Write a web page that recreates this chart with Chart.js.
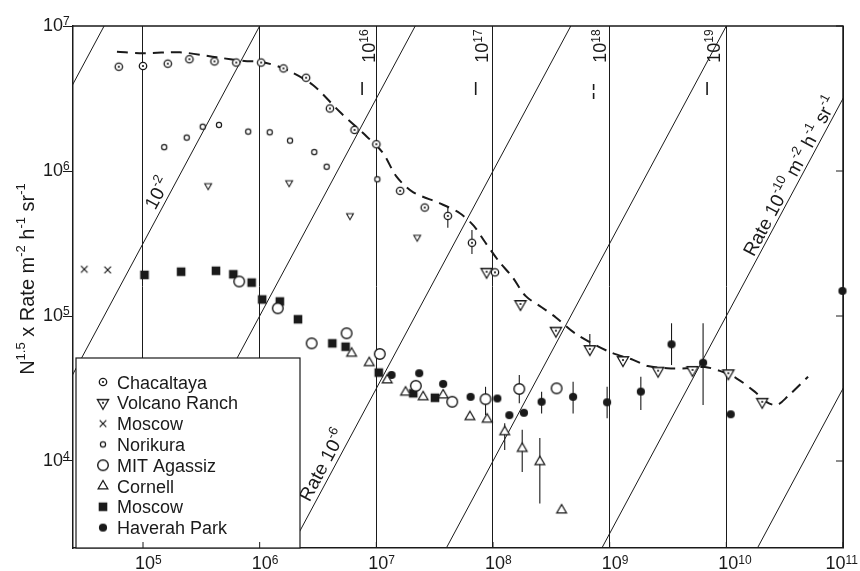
<!DOCTYPE html>
<html>
<head>
<meta charset="utf-8">
<script src="https://cdn.jsdelivr.net/npm/chart.js@4.4.1/dist/chart.umd.min.js"></script>
<style>
  html, body { margin: 0; padding: 0; background: #fff; }
  #wrap { width: 860px; height: 571px; position: relative; }
</style>
</head>
<body>
<div id="wrap"><canvas id="chart"></canvas></div>
<script>
// shower size N (x) against N^1.5 x integral rate (y)
const chacaltayaN    = [6.2e4, 1.0e5, 1.63e5, 2.5e5, 4.1e5, 6.3e5, 1.03e6, 1.6e6, 2.5e6, 4.0e6, 6.5e6, 1.0e7, 1.6e7, 2.6e7, 4.1e7, 6.6e7, 1.04e8];
const chacaltayaRate = [5.24e6, 5.3e6, 5.5e6, 5.9e6, 5.7e6, 5.6e6, 5.6e6, 5.1e6, 4.4e6, 2.7e6, 1.92e6, 1.53e6, 7.3e5, 5.6e5, 4.9e5, 3.2e5, 2.0e5];
const chacaltayaLo   = [null, null, null, null, null, null, null, null, null, null, null, null, null, null, 4.06e5, 2.68e5, null];
const chacaltayaHi   = [null, null, null, null, null, null, null, null, null, null, null, null, null, null, 5.74e5, 3.92e5, null];

const volcanoN    = [3.62e5, 1.79e6, 5.94e6, 2.24e7, 8.81e7, 1.72e8, 3.46e8, 6.76e8, 1.30e9, 2.60e9, 5.13e9, 1.04e10, 2.03e10];
const volcanoRate = [7.92e5, 8.3e5, 4.92e5, 3.49e5, 2.02e5, 1.21e5, 7.92e4, 5.92e4, 4.97e4, 4.2e4, 4.25e4, 4.03e4, 2.56e4];
const volcanoLo   = [null, null, null, null, null, null, null, 5.92e4, null, null, null, null, null];
const volcanoHi   = [null, null, null, null, null, null, null, 7.5e4, null, null, null, null, null];

const moscowXN    = [3.14e4, 4.98e4];
const moscowXRate = [2.1e5, 2.08e5];

const norikuraN    = [1.52e5, 2.37e5, 3.25e5, 4.48e5, 7.98e5, 1.22e6, 1.82e6, 2.94e6, 3.75e6, 1.02e7];
const norikuraRate = [1.46e6, 1.70e6, 2.02e6, 2.08e6, 1.87e6, 1.85e6, 1.62e6, 1.35e6, 1.07e6, 8.77e5];

const mitN    = [6.68e5, 1.43e6, 2.79e6, 5.56e6, 1.07e7, 2.18e7, 4.47e7, 8.63e7, 1.68e8, 3.51e8];
const mitRate = [1.73e5, 1.13e5, 6.48e4, 7.6e4, 5.47e4, 3.3e4, 2.56e4, 2.67e4, 3.14e4, 3.17e4];
const mitLo   = [null, null, null, null, null, null, null, 2.07e4, 2.5e4, null];
const mitHi   = [null, null, null, null, null, null, null, 3.25e4, 3.92e4, null];

const cornellN    = [6.14e6, 8.69e6, 1.24e7, 1.78e7, 2.52e7, 3.74e7, 6.34e7, 8.91e7, 1.26e8, 1.78e8, 2.52e8, 3.87e8];
const cornellRate = [5.53e4, 4.76e4, 3.62e4, 2.98e4, 2.77e4, 2.85e4, 2.02e4, 1.94e4, 1.59e4, 1.22e4, 9.89e3, 4.59e3];
const cornellLo   = [null, null, null, null, null, null, null, null, 1.19e4, 8.4e3, 5.1e3, null];
const cornellHi   = [null, null, null, null, null, null, null, null, 1.82e4, 1.64e4, 1.44e4, null];

const moscowSqN    = [1.03e5, 2.12e5, 4.22e5, 5.94e5, 8.54e5, 1.05e6, 1.49e6, 2.13e6, 4.19e6, 5.45e6, 1.05e7, 2.07e7, 3.18e7];
const moscowSqRate = [1.92e5, 2.02e5, 2.05e5, 1.94e5, 1.70e5, 1.30e5, 1.26e5, 9.49e4, 6.48e4, 6.14e4, 4.07e4, 2.93e4, 2.73e4];

const haverahN    = [1.35e7, 2.33e7, 3.74e7, 6.43e7, 1.09e8, 1.38e8, 1.84e8, 2.61e8, 4.86e8, 9.51e8, 1.85e9, 3.39e9, 6.32e9, 1.09e10, 9.9e10];
const haverahRate = [3.92e4, 4.03e4, 3.4e4, 2.77e4, 2.7e4, 2.07e4, 2.15e4, 2.56e4, 2.77e4, 2.54e4, 3.01e4, 6.38e4, 4.76e4, 2.1e4, 1.49e5];
const haverahLo   = [null, null, null, null, null, null, null, 2.13e4, 2.13e4, 1.97e4, 2.25e4, 4.59e4, 2.43e4, null, null];
const haverahHi   = [null, null, null, null, null, null, null, 3.0e4, 3.52e4, 3.25e4, 3.81e4, 8.91e4, 8.91e4, null, null];

// dashed curve drawn through the data
const fitN    = [5.98e4, 1.0e5, 2.07e5, 4.28e5, 7.38e5, 1.05e6, 1.71e6, 2.86e6, 4.88e6, 8.26e6, 1.14e7, 1.49e7, 2.06e7, 3.51e7, 5.2e7, 6.85e7, 8.51e7, 1.12e8, 1.47e8, 1.91e8, 2.61e8, 3.46e8, 5.04e8, 9.84e8, 1.59e9, 2.12e9, 3.12e9, 4.56e9, 6.55e9, 8.79e9, 1.22e10, 1.75e10, 2.22e10, 2.71e10, 3.33e10, 5.02e10];
const fitRate = [6.65e6, 6.49e6, 6.59e6, 6.08e6, 5.74e6, 5.65e6, 4.98e6, 3.92e6, 2.55e6, 1.73e6, 1.33e6, 9.14e5, 7.16e5, 5.98e5, 5.11e5, 4.18e5, 3.25e5, 2.39e5, 1.85e5, 1.37e5, 1.15e5, 9.77e4, 7.6e4, 5.68e4, 4.98e4, 4.52e4, 4.36e4, 4.36e4, 4.45e4, 4.18e4, 3.72e4, 3.01e4, 2.55e4, 2.43e4, 2.77e4, 3.81e4];

// lines of constant rate (m^-2 h^-1 sr^-1), given as powers of ten
const rateExps = [0, -2, -4, -6, -8, -10, -12];

const xTicks = [1e5, 1e6, 1e7, 1e8, 1e9, 1e10, 1e11];
const yTicks = [1e4, 1e5, 1e6, 1e7];

const energyN      = [8.5e6, 8.0e7, 8.2e8, 7.7e9];
const energyLabels = ['16', '17', '18', '19'];

const legendNames = ['Chacaltaya', 'Volcano Ranch', 'Moscow', 'Norikura', 'MIT Agassiz', 'Cornell', 'Moscow', 'Haverah Park'];

const INK = '#1a1a1a';
const FONT = "'Liberation Sans', Arial, sans-serif";

function makeIcon(kind) {
  const c = document.createElement('canvas');
  c.width = 18; c.height = 18;
  const g = c.getContext('2d');
  const m = 9;
  g.strokeStyle = INK;
  g.fillStyle = '#fff';
  g.lineWidth = 1.3;
  const tri = (hw, down) => {
    const s = down ? 1 : -1;
    g.beginPath();
    g.moveTo(m - hw, m - s * hw * 0.577);
    g.lineTo(m + hw, m - s * hw * 0.577);
    g.lineTo(m, m + s * hw * 1.155);
    g.closePath();
    g.fill(); g.stroke();
  };
  const dot = (r) => { g.fillStyle = INK; g.beginPath(); g.arc(m, m, r, 0, Math.PI * 2); g.fill(); };
  if (kind === 'odot') {
    g.beginPath(); g.arc(m, m, 3.7, 0, Math.PI * 2); g.fill(); g.stroke();
    dot(1.1);
  } else if (kind === 'triSmall') {
    g.lineWidth = 1.1; tri(3.4, true);
  } else if (kind === 'triDot') {
    tri(5.6, true); dot(1.1);
  } else if (kind === 'cross') {
    g.lineWidth = 1.2;
    g.beginPath();
    g.moveTo(m - 3.3, m - 3.3); g.lineTo(m + 3.3, m + 3.3);
    g.moveTo(m + 3.3, m - 3.3); g.lineTo(m - 3.3, m + 3.3);
    g.stroke();
  } else if (kind === 'ring') {
    g.lineWidth = 1.2;
    g.beginPath(); g.arc(m, m, 2.6, 0, Math.PI * 2); g.fill(); g.stroke();
  } else if (kind === 'bigRing') {
    g.lineWidth = 1.4;
    g.beginPath(); g.arc(m, m, 5.3, 0, Math.PI * 2); g.fill(); g.stroke();
  } else if (kind === 'triUp') {
    g.lineWidth = 1.2; tri(4.9, false);
  } else if (kind === 'square') {
    g.fillStyle = INK; g.fillRect(m - 4.3, m - 4.3, 8.6, 8.6);
  } else if (kind === 'disc') {
    dot(4.1);
  }
  return c;
}

const icons = {};
['odot', 'triSmall', 'triDot', 'cross', 'ring', 'bigRing', 'triUp', 'square', 'disc'].forEach(k => icons[k] = makeIcon(k));
const legendIcons = ['odot', 'triDot', 'cross', 'ring', 'bigRing', 'triUp', 'square', 'disc'];

function pts(xs, ys) { return xs.map((x, i) => ({ x: x, y: ys[i] })); }

function marks(xs, ys, style, lo, hi) {
  return {
    data: pts(xs, ys),
    pointStyle: style,
    pointRadius: 4,
    errLo: lo || null,
    errHi: hi || null,
    clip: false,
    order: 0
  };
}

const datasets = [];
rateExps.forEach(e => {
  datasets.push({
    data: [{ x: 1e4, y: 1e6 * Math.pow(10, e) }, { x: 1e12, y: 1e18 * Math.pow(10, e) }],
    showLine: true, borderColor: INK, borderWidth: 1, pointRadius: 0, order: 10
  });
});
datasets.push({
  data: pts(fitN, fitRate),
  showLine: true, borderColor: INK, borderWidth: 2, borderDash: [11, 7],
  pointRadius: 0, tension: 0.3, order: 5
});
datasets.push(marks(chacaltayaN, chacaltayaRate, icons.odot, chacaltayaLo, chacaltayaHi));
datasets.push(marks(volcanoN, volcanoRate, volcanoN.map((v, i) => i < 4 ? icons.triSmall : icons.triDot), volcanoLo, volcanoHi));
datasets.push(marks(moscowXN, moscowXRate, icons.cross));
datasets.push(marks(norikuraN, norikuraRate, icons.ring));
datasets.push(marks(mitN, mitRate, icons.bigRing, mitLo, mitHi));
datasets.push(marks(cornellN, cornellRate, icons.triUp, cornellLo, cornellHi));
datasets.push(marks(moscowSqN, moscowSqRate, icons.square));
datasets.push(marks(haverahN, haverahRate, icons.disc, haverahLo, haverahHi));

// text with raised parts, turned by angle; align 'center' or 'left'
function richText(ctx, parts, x, y, angle, size, align, raise) {
  const supSize = Math.round(size * 0.66);
  const up = size * (raise == null ? 0.46 : raise);
  ctx.save();
  ctx.translate(x, y);
  ctx.rotate(angle);
  ctx.fillStyle = INK;
  ctx.textBaseline = 'alphabetic';
  let total = 0;
  const widths = parts.map(([t, sup]) => {
    ctx.font = (sup ? supSize : size) + 'px ' + FONT;
    const w = ctx.measureText(t).width;
    total += w;
    return w;
  });
  let cx = align === 'left' ? 0 : -total / 2;
  parts.forEach(([t, sup], i) => {
    ctx.font = (sup ? supSize : size) + 'px ' + FONT;
    ctx.fillText(t, cx, size * 0.36 - (sup ? up : 0));
    cx += widths[i];
  });
  ctx.restore();
}

const expOf = v => String(Math.round(Math.log10(v)));

const rateLabels = [
  { parts: [['10', 0], ['-2', 1]], n: 1.32e5, v: 7.05e5, exp: -2 },
  { parts: [['Rate 10', 0], ['-6', 1]], n: 3.42e6, v: 9.38e3, exp: -6 },
  { parts: [['Rate 10', 0], ['-10', 1], [' m', 0], ['-2', 1], [' h', 0], ['-1', 1], [' sr', 0], ['-1', 1]], n: 3.5e10, v: 9.25e5, exp: -10 }
];

const decor = {
  id: 'decor',
  beforeDatasetsDraw(chart) {
    const ctx = chart.ctx, xs = chart.scales.x, ys = chart.scales.y;
    ctx.save();
    ctx.strokeStyle = INK;
    ctx.lineWidth = 1.1;
    chart.data.datasets.forEach(ds => {
      if (!ds.errLo) return;
      ds.data.forEach((p, i) => {
        if (ds.errLo[i] == null) return;
        const px = xs.getPixelForValue(p.x);
        ctx.beginPath();
        ctx.moveTo(px, ys.getPixelForValue(ds.errLo[i]));
        ctx.lineTo(px, ys.getPixelForValue(ds.errHi[i]));
        ctx.stroke();
      });
    });
    ctx.restore();
  },
  afterDatasetsDraw(chart) {
    const ctx = chart.ctx, a = chart.chartArea, xs = chart.scales.x, ys = chart.scales.y;
    ctx.save();
    ctx.strokeStyle = INK;
    ctx.lineWidth = 1.5;
    ctx.beginPath();
    ctx.moveTo(a.left, a.top); ctx.lineTo(a.right, a.top); ctx.lineTo(a.right, a.bottom);
    ctx.stroke();
    ctx.lineWidth = 1;
    yTicks.forEach(v => {
      const py = ys.getPixelForValue(v);
      ctx.beginPath(); ctx.moveTo(a.right, py); ctx.lineTo(a.right - 7, py); ctx.stroke();
    });

    // labels along the constant-rate lines
    rateLabels.forEach(l => {
      const r = Math.pow(10, l.exp);
      const p1x = xs.getPixelForValue(1e6), p1y = ys.getPixelForValue(1e9 * r);
      const p2x = xs.getPixelForValue(1e8), p2y = ys.getPixelForValue(1e12 * r);
      const ang = Math.atan2(p2y - p1y, p2x - p1x);
      richText(ctx, l.parts, xs.getPixelForValue(l.n), ys.getPixelForValue(l.v), ang, 19);
    });

    // primary energy markers along the top
    energyN.forEach((n, i) => {
      const px = xs.getPixelForValue(n);
      richText(ctx, [['10', 0], [energyLabels[i], 1]], px, a.top + 20, -Math.PI / 2, 18, 'center', 0.36);
      ctx.lineWidth = 1.6;
      ctx.beginPath();
      if (i === 2) {
        ctx.moveTo(px - 6, a.top + 58); ctx.lineTo(px - 6, a.top + 64);
        ctx.moveTo(px - 6, a.top + 67); ctx.lineTo(px - 6, a.top + 73);
      } else {
        ctx.moveTo(px - 6, a.top + 56); ctx.lineTo(px - 6, a.top + 69);
      }
      ctx.stroke();
    });

    // legend box
    const lx = a.left + 3, ly = 358, lw = 224, lh = a.bottom - ly;
    ctx.fillStyle = '#fff';
    ctx.fillRect(lx, ly, lw, lh);
    ctx.lineWidth = 1.2;
    ctx.strokeRect(lx, ly, lw, lh);
    ctx.fillStyle = INK;
    ctx.font = '18px ' + FONT;
    ctx.textBaseline = 'alphabetic';
    legendNames.forEach((name, i) => {
      const y = ly + 24 + i * 20.8;
      const ic = icons[legendIcons[i]];
      ctx.drawImage(ic, lx + 27 - ic.width / 2, y - ic.height / 2);
      ctx.fillText(name, lx + 41, y + 6.5);
    });
    ctx.lineWidth = 1;
    xTicks.forEach(v => {
      const px = xs.getPixelForValue(v);
      ctx.beginPath(); ctx.moveTo(px, a.bottom); ctx.lineTo(px, a.bottom - 6); ctx.stroke();
    });

    // tick labels: powers of ten at the scale's own ticks
    ctx.font = '18px ' + FONT;
    const w10 = ctx.measureText('10').width;
    xs.ticks.forEach(t => {
      const px = xs.getPixelForValue(t.value);
      const e = expOf(t.value);
      ctx.font = '12px ' + FONT;
      const we = ctx.measureText(e).width;
      const start = Math.min(px + 2 - w10 / 2, chart.width - 2 - w10 - we);
      richText(ctx, [['10', 0], [e, 1]], start, a.bottom + 15, 0, 18, 'left', 0.33);
    });
    ys.ticks.forEach(t => {
      const py = ys.getPixelForValue(t.value);
      richText(ctx, [['10', 0], [expOf(t.value), 1]], 43, py - 1, 0, 18, 'left', 0.36);
    });

    // y axis title
    richText(ctx, [['N', 0], ['1.5', 1], [' x Rate m', 0], ['-2', 1], [' h', 0], ['-1', 1], [' sr', 0], ['-1', 1]],
      27, 279, -Math.PI / 2, 20);
    ctx.restore();
  }
};

new Chart(document.getElementById('chart'), {
  type: 'scatter',
  data: { datasets: datasets },
  options: {
    responsive: true,
    maintainAspectRatio: false,
    animation: false,
    events: [],
    layout: { padding: { top: 26, right: 17, bottom: 0, left: 0 } },
    plugins: { legend: { display: false }, tooltip: { enabled: false } },
    scales: {
      x: {
        type: 'logarithmic',
        min: Math.pow(10, 4.4),
        max: 1e11,
        afterBuildTicks: s => { s.ticks = xTicks.map(v => ({ value: v })); },
        afterFit: s => { s.height = 23; },
        grid: { color: INK, lineWidth: 1, drawTicks: false },
        border: { color: INK, width: 1.5 },
        ticks: { display: false }
      },
      y: {
        type: 'logarithmic',
        min: Math.pow(10, 3.4),
        max: 1e7,
        afterBuildTicks: s => { s.ticks = yTicks.map(v => ({ value: v })); },
        afterFit: s => { s.width = 73; },
        grid: { drawOnChartArea: false, drawTicks: true, tickLength: 10, tickColor: INK, tickWidth: 1 },
        border: { color: INK, width: 1.5 },
        ticks: { display: false }
      }
    }
  },
  plugins: [decor]
});
</script>
</body>
</html>
